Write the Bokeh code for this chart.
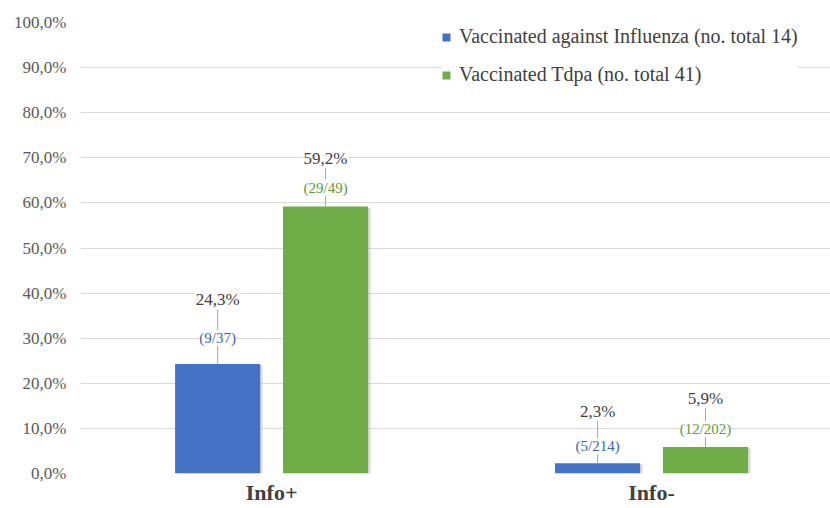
from bokeh.plotting import figure
from bokeh.models import (ColumnDataSource, Range1d, FixedTicker, LabelSet,
                          Legend, LegendItem)
from bokeh.embed import file_html
from bokeh.resources import INLINE

# ---------------- data ----------------
categories = ["Info+", "Info-"]
series_names = ["Vaccinated against Influenza (no. total 14)",
                "Vaccinated Tdpa (no. total 41)"]
influenza_pct = [24.3, 2.3]
tdpa_pct = [59.2, 5.9]
influenza_num = [9, 5]
influenza_den = [37, 214]
tdpa_num = [29, 12]
tdpa_den = [49, 202]
y_ticks = [0, 10, 20, 30, 40, 50, 60, 70, 80, 90, 100]
y_tick_labels = ["0,0%", "10,0%", "20,0%", "30,0%", "40,0%", "50,0%",
                 "60,0%", "70,0%", "80,0%", "90,0%", "100,0%"]

# ---------------- layout / style ----------------
W, H = 830, 508
BL, BR, BT, BB = 80, 0, 22, 35
frame_h = 473 - BT
y_start, y_end = 0, 100
px_per_unit = frame_h / (y_end - y_start)
dodge = 0.142
bar_w = 0.224
colors = ["#4472c4", "#70ad47"]
frac_colors = ["#3b64b3", "#5f9a3c"]
# label offsets in pixels above bar top (per series, per category)
frac_off = [[26, 17], [19, 18]]
pct_off = [[64, 52], [48, 48]]
serif = "Liberation Serif"

p = figure(width=W, height=H, output_backend="svg", toolbar_location=None,
           x_range=Range1d(-0.003, 1.971), y_range=Range1d(y_start, y_end),
           min_border_left=BL, min_border_right=BR, min_border_top=BT,
           min_border_bottom=BB, outline_line_color=None,
           background_fill_color="white", border_fill_color="white")

renderers = []
series_pct = [influenza_pct, tdpa_pct]
series_num = [influenza_num, tdpa_num]
series_den = [influenza_den, tdpa_den]
for s in range(2):
    xs = [i + 0.5 + (-dodge if s == 0 else dodge) for i in range(len(categories))]
    vals = series_pct[s]
    src = ColumnDataSource(dict(
        x=xs, top=vals,
        xs_shadow=[x + 2.5 / 380 for x in xs],
        top_shadow=[v - 0.3 for v in vals],
        pct=[("%.1f" % v).replace(".", ",") + "%" for v in vals],
        frac=["(%d/%d)" % (n, d) for n, d in zip(series_num[s], series_den[s])],
        y_pct_end=[v + o / px_per_unit for v, o in zip(vals, pct_off[s])],
        frac_off=frac_off[s], pct_off=pct_off[s],
    ))
    # soft shadow
    p.vbar(x="xs_shadow", top="top_shadow", bottom=0, width=bar_w, source=src,
           fill_color="#b8b8b8", fill_alpha=0.5, line_color=None)
    r = p.vbar(x="x", top="top", bottom=0, width=bar_w, source=src,
               fill_color=colors[s], line_color=None)
    renderers.append(r)
    # leader line
    p.segment(x0="x", y0="top", x1="x", y1="y_pct_end", source=src,
              line_color="#a6a6a6", line_width=1)
    p.add_layout(LabelSet(x="x", y="top", text="frac", y_offset="frac_off",
                          source=src, text_align="center", text_baseline="middle",
                          text_font=serif, text_font_size="15px",
                          text_color=frac_colors[s],
                          background_fill_color="white"))
    p.add_layout(LabelSet(x="x", y="top", text="pct", y_offset="pct_off",
                          source=src, text_align="center", text_baseline="middle",
                          text_font=serif, text_font_size="17px",
                          text_color="#404040",
                          background_fill_color="white"))

# axes
p.yaxis.ticker = FixedTicker(ticks=y_ticks)
p.yaxis.major_label_overrides = {t: l for t, l in zip(y_ticks, y_tick_labels)}
p.yaxis.axis_line_color = None
p.yaxis.major_tick_line_color = None
p.yaxis.minor_tick_line_color = None
p.yaxis.major_label_standoff = 8
p.yaxis.major_label_text_font = serif
p.yaxis.major_label_text_font_size = "17px"
p.yaxis.major_label_text_color = "#595959"

p.xaxis.ticker = FixedTicker(ticks=[i + 0.5 for i in range(len(categories))])
p.xaxis.major_label_overrides = {i + 0.5: c for i, c in enumerate(categories)}
p.xaxis.axis_line_color = None
p.xaxis.major_tick_line_color = None
p.xaxis.minor_tick_line_color = None
p.xaxis.major_label_standoff = 0
p.xaxis.major_label_text_font = serif
p.xaxis.major_label_text_font_size = "22px"
p.xaxis.major_label_text_font_style = "bold"
p.xaxis.major_label_text_color = "#404040"

p.xgrid.grid_line_color = None
p.ygrid.grid_line_color = "#d9d9d9"
p.ygrid.grid_line_width = 1

legend = Legend(items=[LegendItem(label=series_names[i], renderers=[renderers[i]])
                       for i in range(2)],
                location=(361, 387), orientation="vertical",
                label_text_font=serif, label_text_font_size="20px",
                label_text_color="#404040", glyph_width=10, glyph_height=10,
                label_standoff=8, spacing=15, label_height=22,
                padding=6, margin=0,
                background_fill_color="white", background_fill_alpha=1.0,
                border_line_color=None)
p.add_layout(legend)

open("out.html", "w").write(file_html(p, INLINE))
